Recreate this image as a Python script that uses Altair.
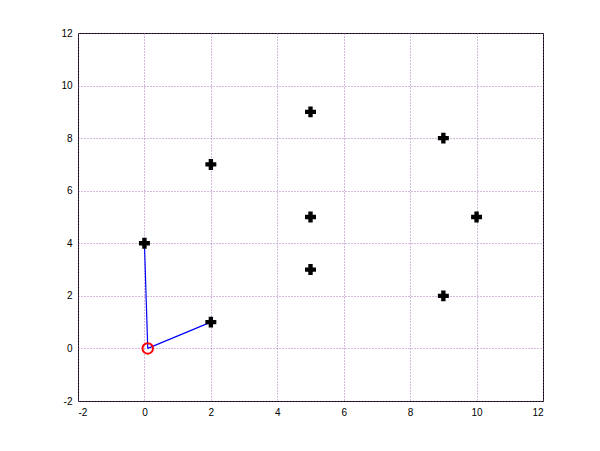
import altair as alt
import pandas as pd

pts_x = [0, 2, 2, 5, 5, 5, 9, 10, 9]
pts_y = [4, 1, 7, 9, 5, 3, 8, 5, 2]
origin_x = [0.1]
origin_y = [0.0]
seg_x2 = [0, 2]
seg_y2 = [4, 1]
ticks = [-2, 0, 2, 4, 6, 8, 10, 12]

pts = pd.DataFrame({"x": pts_x, "y": pts_y})
org = pd.DataFrame({"x": origin_x, "y": origin_y})
segs = pd.DataFrame({"x": origin_x * len(seg_x2), "y": origin_y * len(seg_x2),
                     "x2": seg_x2, "y2": seg_y2})

xs = alt.Scale(domain=[-2, 12], nice=False, zero=False)
ys = alt.Scale(domain=[-2, 12], nice=False, zero=False)
xax = alt.Axis(values=ticks, title=None, grid=True, tickSize=0, labelPadding=6,
               labelExpr="'' + datum.value")
yax = alt.Axis(values=ticks, title=None, grid=True, tickSize=0, labelPadding=6,
               labelExpr="'' + datum.value")

lines = alt.Chart(segs).mark_rule(color="#0000ff", strokeWidth=1.2).encode(
    x=alt.X("x:Q", scale=xs, axis=xax),
    y=alt.Y("y:Q", scale=ys, axis=yax),
    x2="x2:Q", y2="y2:Q",
)
markers = alt.Chart(pts).mark_point(shape="cross", filled=True, color="black",
                                    size=120, opacity=1).encode(
    x=alt.X("x:Q", scale=xs), y=alt.Y("y:Q", scale=ys))
circ = alt.Chart(org).mark_point(shape="circle", filled=False, color="#ff0000",
                                 size=110, strokeWidth=2, opacity=1).encode(
    x=alt.X("x:Q", scale=xs), y=alt.Y("y:Q", scale=ys))

chart = alt.layer(lines, markers, circ).properties(
    width=465, height=368,
    background="white",
    autosize=alt.AutoSizeParams(type="none"),
    padding={"left": 70, "top": 25, "right": 49, "bottom": 42},
).configure_view(stroke="black", strokeWidth=1).configure_axis(
    gridColor="#9a5fb0", gridDash=[1, 2], gridOpacity=0.85, gridWidth=1,
    domain=False, labelFont="Liberation Sans", labelFontSize=10, labelColor="black",
)

chart.save("out.html", embed_options={"renderer": "svg", "actions": False})
